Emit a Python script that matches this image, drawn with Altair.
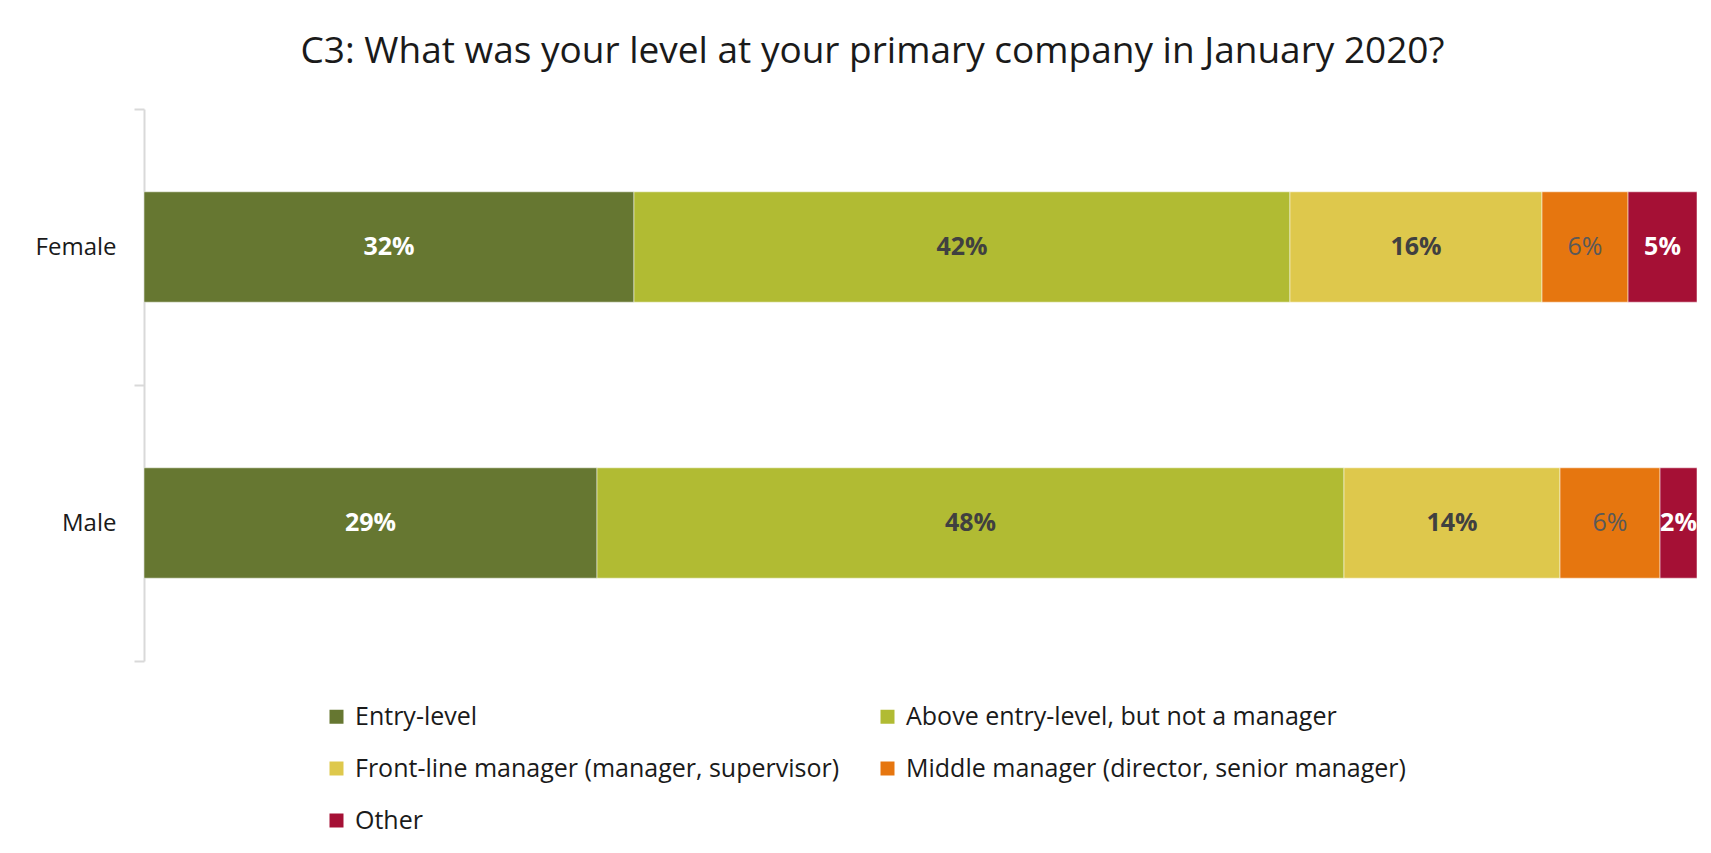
import altair as alt
import pandas as pd

# ---- data ----
genders = ["Female", "Male"]
categories = [
    "Entry-level",
    "Above entry-level, but not a manager",
    "Front-line manager (manager, supervisor)",
    "Middle manager (director, senior manager)",
    "Other",
]
female_values = [31.55, 42.24, 16.23, 5.54, 4.44]
male_values = [29.17, 48.10, 13.91, 6.44, 2.38]
female_labels = ["32%", "42%", "16%", "6%", "5%"]
male_labels = ["29%", "48%", "14%", "6%", "2%"]
colors = ["#667731", "#B1BB33", "#DEC84C", "#E6760F", "#A51035"]

rows = []
for g, vals, labs in [("Female", female_values, female_labels), ("Male", male_values, male_labels)]:
    for i, (c, v, l) in enumerate(zip(categories, vals, labs)):
        rows.append({"gender": g, "category": c, "order": i, "value": v, "label": l})
df = pd.DataFrame(rows)

FONT = "Open Sans"

base = alt.Chart(df)

y_enc = alt.Y(
    "gender:N",
    sort=genders,
    scale=alt.Scale(paddingInner=0, paddingOuter=0),
    axis=alt.Axis(
        title=None,
        tickBand="extent",
        domainColor="#D9D9D9",
        domainWidth=2,
        tickColor="#D9D9D9",
        tickWidth=2,
        tickSize=10,
        labelPadding=18,
        labelFont=FONT,
        labelFontSize=24,
        labelColor="#1a1a1a",
    ),
)

bars = base.mark_bar(height={"band": 0.4}, stroke="white", strokeWidth=1, strokeOpacity=0.5).encode(
    x=alt.X("value:Q", stack="zero", scale=alt.Scale(domain=[0, 100], nice=False), axis=None),
    y=y_enc,
    color=alt.Color(
        "category:N",
        scale=alt.Scale(domain=categories, range=colors),
        legend=alt.Legend(
            orient="none",
            direction="horizontal",
            legendX=180,
            legendY=595,
            columns=2,
            title=None,
            symbolType="square",
            symbolSize=196,
            symbolStrokeWidth=0,
            labelFont=FONT,
            labelFontSize=25,
            labelColor="#1a1a1a",
            labelOffset=6,
            labelLimit=1000,
            columnPadding=35,
            rowPadding=26,
            padding=0,
        ),
    ),
    order=alt.Order("order:Q"),
)

text_base = base.transform_window(
    cum="sum(value)", groupby=["gender"], sort=[alt.SortField("order")], frame=[None, 0]
).transform_calculate(mid="datum.cum - datum.value / 2")

def text_layer(cats, color, weight):
    return text_base.transform_filter(
        alt.FieldOneOfPredicate(field="category", oneOf=cats)
    ).mark_text(font=FONT, fontSize=25, fontWeight=weight, color=color, baseline="middle", align="center").encode(
        x=alt.X("mid:Q"),
        y=alt.Y("gender:N", sort=genders),
        text="label:N",
    )

t_white = text_layer([categories[0], categories[4]], "#FFFFFF", "bold")
t_dark = text_layer([categories[1], categories[2]], "#404040", "bold")
t_mid = text_layer([categories[3]], "#595959", "normal")

chart = alt.layer(bars, t_white, t_dark, t_mid).properties(
    width=1553,
    height=552,
    autosize=alt.AutoSizeParams(type="none"),
    padding={"left": 136, "top": 101, "right": 6, "bottom": 184},
    title=alt.TitleParams(
        "C3: What was your level at your primary company in January 2020?",
        font=FONT,
        fontSize=37,
        fontWeight="normal",
        color="#1a1a1a",
        anchor="middle",
        dx=-48,
        offset=26,
    ),
).configure(background="white").configure_view(strokeWidth=0, stroke="transparent")

chart.save("out.html", embed_options={"renderer": "svg", "actions": False})
